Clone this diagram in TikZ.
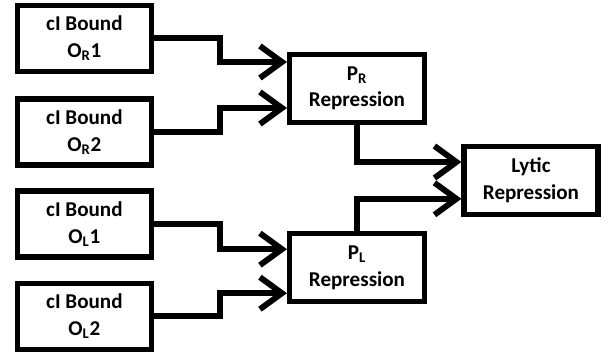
\documentclass[tikz,border=0pt]{standalone}
\usepackage{fontspec}
\setmainfont{Carlito}
\usetikzlibrary{arrows.meta}

\begin{document}
\begin{tikzpicture}[
  box/.style={draw, line width=3.6pt, minimum width=3.35cm, minimum height=1.65cm,
    inner sep=0pt, align=center, font=\fontsize{15}{19}\selectfont\bfseries},
  arr/.style={line width=4.2pt, line join=miter,
    -{Straight Barb[length=5.5mm,width=8mm]}}]

\useasboundingbox (0,0) rectangle (15.4,-9);

\node[box] (or1) at (2.11,-0.96) {cI Bound\\O\textsubscript{R}1};
\node[box] (or2) at (2.11,-3.3) {cI Bound\\O\textsubscript{R}2};
\node[box] (ol1) at (2.11,-5.6) {cI Bound\\O\textsubscript{L}1};
\node[box] (ol2) at (2.11,-7.91) {cI Bound\\O\textsubscript{L}2};

\node[box, minimum width=3.375cm, minimum height=1.7cm] (pr) at (8.925,-2.21) {P\textsubscript{R}\\Repression};
\node[box, minimum width=3.375cm, minimum height=1.7cm] (pl) at (8.925,-6.69) {P\textsubscript{L}\\Repression};

\node[box, minimum height=1.7cm] (lytic) at (13.275,-4.51) {Lytic\\Repression};


\draw[arr] (or1.east) -- ++(1.65,0) |- ([yshift=0.66cm]pr.west);
\draw[arr] (or2.east) -- ++(1.65,0) |- ([yshift=-0.49cm]pr.west);

\draw[arr] (ol1.east) -- ++(1.65,0) |- ([yshift=0.46cm]pl.west);
\draw[arr] (ol2.east) -- ++(1.65,0) |- ([yshift=-0.64cm]pl.west);

\draw[arr] (pr.south) |- ([yshift=0.46cm]lytic.west);
\draw[arr] (pl.north) |- ([yshift=-0.46cm]lytic.west);

\end{tikzpicture}
\end{document}
